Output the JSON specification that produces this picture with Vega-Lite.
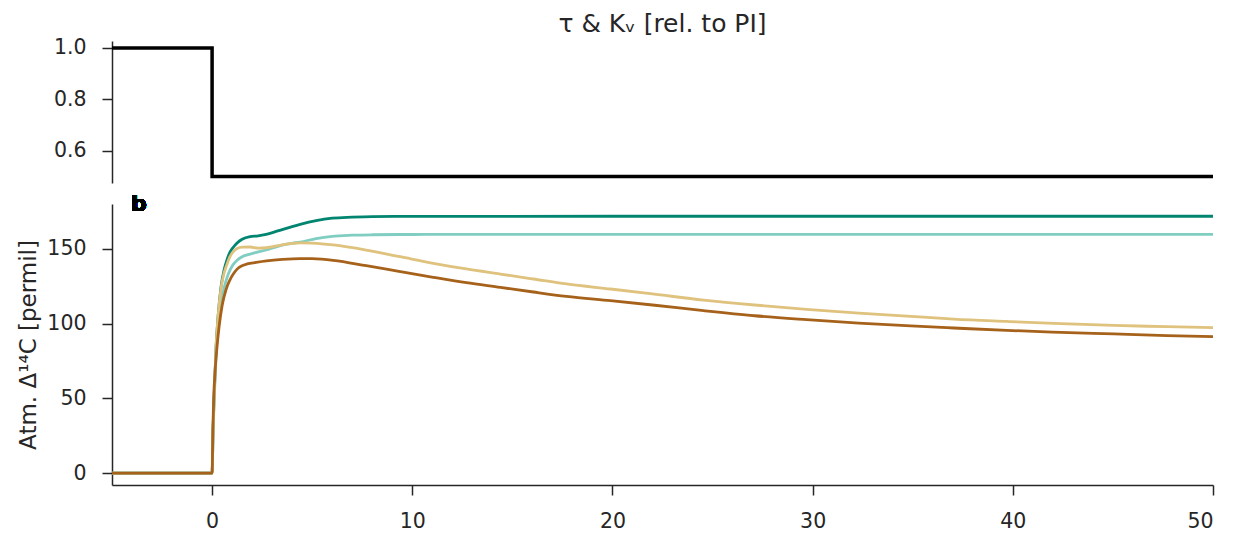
{
  "$schema": "https://vega.github.io/schema/vega-lite/v6.json",
  "autosize": {"type": "pad"},
  "padding": {"left": 17, "top": 11, "right": 12, "bottom": 2},
  "config": {
    "font": "DejaVu Sans",
    "view": {"stroke": null},
    "concat": {"spacing": 9},
    "axis": {
      "grid": false,
      "domainColor": "#262626",
      "domainWidth": 1.5,
      "tickColor": "#262626",
      "tickWidth": 1.5,
      "tickSize": 10,
      "labelFont": "DejaVu Sans",
      "labelFontSize": 20.5,
      "labelColor": "#262626",
      "labelPadding": 16,
      "titleFont": "DejaVu Sans",
      "titleFontSize": 23,
      "titleFontWeight": "normal",
      "titleColor": "#262626"
    }
  },
  "datasets": {
    "step": [
      {"t": -5, "v": 1.0},
      {"t": 0, "v": 0.5},
      {"t": 50, "v": 0.5}
    ],
    "c14": [
      {"s": "s1", "t": -5, "d": 0}, {"s": "s1", "t": 0, "d": 0}, {"s": "s1", "t": 0.05, "d": 30}, {"s": "s1", "t": 0.1, "d": 50}, {"s": "s1", "t": 0.2, "d": 85}, {"s": "s1", "t": 0.3, "d": 105}, {"s": "s1", "t": 0.45, "d": 125}, {"s": "s1", "t": 0.6, "d": 136}, {"s": "s1", "t": 0.75, "d": 143}, {"s": "s1", "t": 0.9, "d": 148}, {"s": "s1", "t": 1.05, "d": 151}, {"s": "s1", "t": 1.25, "d": 154}, {"s": "s1", "t": 1.5, "d": 156.5}, {"s": "s1", "t": 1.9, "d": 158.3}, {"s": "s1", "t": 2.3, "d": 158.8}, {"s": "s1", "t": 2.7, "d": 159.8}, {"s": "s1", "t": 3.1, "d": 161.3}, {"s": "s1", "t": 3.5, "d": 163}, {"s": "s1", "t": 4.0, "d": 165}, {"s": "s1", "t": 4.4, "d": 166.5}, {"s": "s1", "t": 5.2, "d": 169}, {"s": "s1", "t": 6.0, "d": 170.6}, {"s": "s1", "t": 7.0, "d": 171.3}, {"s": "s1", "t": 8.0, "d": 171.7}, {"s": "s1", "t": 10, "d": 171.8}, {"s": "s1", "t": 20, "d": 171.9}, {"s": "s1", "t": 30, "d": 171.9}, {"s": "s1", "t": 40, "d": 171.9}, {"s": "s1", "t": 50, "d": 171.9},
      {"s": "s2", "t": -5, "d": 0}, {"s": "s2", "t": 0, "d": 0}, {"s": "s2", "t": 0.05, "d": 28}, {"s": "s2", "t": 0.1, "d": 47}, {"s": "s2", "t": 0.2, "d": 80}, {"s": "s2", "t": 0.3, "d": 99}, {"s": "s2", "t": 0.45, "d": 114}, {"s": "s2", "t": 0.6, "d": 124}, {"s": "s2", "t": 0.75, "d": 131}, {"s": "s2", "t": 0.9, "d": 136}, {"s": "s2", "t": 1.05, "d": 139.5}, {"s": "s2", "t": 1.25, "d": 142.5}, {"s": "s2", "t": 1.5, "d": 144.8}, {"s": "s2", "t": 1.9, "d": 146.6}, {"s": "s2", "t": 2.3, "d": 148}, {"s": "s2", "t": 2.7, "d": 149.3}, {"s": "s2", "t": 3.1, "d": 151}, {"s": "s2", "t": 3.5, "d": 152.6}, {"s": "s2", "t": 4.0, "d": 153.8}, {"s": "s2", "t": 4.4, "d": 154.6}, {"s": "s2", "t": 5.2, "d": 157}, {"s": "s2", "t": 6.0, "d": 158.5}, {"s": "s2", "t": 7.0, "d": 159.2}, {"s": "s2", "t": 8.0, "d": 159.5}, {"s": "s2", "t": 10, "d": 159.7}, {"s": "s2", "t": 20, "d": 159.8}, {"s": "s2", "t": 30, "d": 159.8}, {"s": "s2", "t": 40, "d": 159.8}, {"s": "s2", "t": 50, "d": 159.8},
      {"s": "s3", "t": -5, "d": 0}, {"s": "s3", "t": 0, "d": 0}, {"s": "s3", "t": 0.05, "d": 30}, {"s": "s3", "t": 0.1, "d": 50}, {"s": "s3", "t": 0.2, "d": 85}, {"s": "s3", "t": 0.3, "d": 105}, {"s": "s3", "t": 0.45, "d": 124}, {"s": "s3", "t": 0.6, "d": 134}, {"s": "s3", "t": 0.75, "d": 140}, {"s": "s3", "t": 0.9, "d": 145}, {"s": "s3", "t": 1.05, "d": 148}, {"s": "s3", "t": 1.25, "d": 150.3}, {"s": "s3", "t": 1.5, "d": 151.2}, {"s": "s3", "t": 1.9, "d": 151.3}, {"s": "s3", "t": 2.3, "d": 150.6}, {"s": "s3", "t": 2.7, "d": 150.8}, {"s": "s3", "t": 3.1, "d": 151.8}, {"s": "s3", "t": 3.5, "d": 152.8}, {"s": "s3", "t": 4.0, "d": 153.8}, {"s": "s3", "t": 4.4, "d": 154.1}, {"s": "s3", "t": 5.0, "d": 153.9}, {"s": "s3", "t": 6.05, "d": 152.7}, {"s": "s3", "t": 7.7, "d": 149.3}, {"s": "s3", "t": 9.4, "d": 144.8}, {"s": "s3", "t": 11.05, "d": 140.4}, {"s": "s3", "t": 12.7, "d": 136.6}, {"s": "s3", "t": 14.4, "d": 133.2}, {"s": "s3", "t": 16.05, "d": 129.9}, {"s": "s3", "t": 17.7, "d": 126.6}, {"s": "s3", "t": 19.9, "d": 123.2}, {"s": "s3", "t": 22, "d": 119.9}, {"s": "s3", "t": 24.55, "d": 115.8}, {"s": "s3", "t": 27.1, "d": 112.5}, {"s": "s3", "t": 29.7, "d": 109.6}, {"s": "s3", "t": 32.3, "d": 107.1}, {"s": "s3", "t": 34.9, "d": 104.9}, {"s": "s3", "t": 37.05, "d": 103.1}, {"s": "s3", "t": 39.7, "d": 101.5}, {"s": "s3", "t": 42.4, "d": 100}, {"s": "s3", "t": 45.05, "d": 98.8}, {"s": "s3", "t": 47.7, "d": 98}, {"s": "s3", "t": 50, "d": 97.3},
      {"s": "s4", "t": -5, "d": 0}, {"s": "s4", "t": 0, "d": 0}, {"s": "s4", "t": 0.04, "d": 30}, {"s": "s4", "t": 0.08, "d": 50}, {"s": "s4", "t": 0.15, "d": 68}, {"s": "s4", "t": 0.25, "d": 85}, {"s": "s4", "t": 0.35, "d": 98}, {"s": "s4", "t": 0.5, "d": 112}, {"s": "s4", "t": 0.7, "d": 123}, {"s": "s4", "t": 0.9, "d": 129.5}, {"s": "s4", "t": 1.05, "d": 133}, {"s": "s4", "t": 1.25, "d": 136.5}, {"s": "s4", "t": 1.5, "d": 138.8}, {"s": "s4", "t": 1.75, "d": 140}, {"s": "s4", "t": 2.2, "d": 141}, {"s": "s4", "t": 2.72, "d": 142}, {"s": "s4", "t": 3.5, "d": 143}, {"s": "s4", "t": 4.4, "d": 143.6}, {"s": "s4", "t": 5.0, "d": 143.5}, {"s": "s4", "t": 6.05, "d": 142.4}, {"s": "s4", "t": 7.7, "d": 138.8}, {"s": "s4", "t": 9.4, "d": 134.8}, {"s": "s4", "t": 11.05, "d": 131}, {"s": "s4", "t": 12.7, "d": 127.4}, {"s": "s4", "t": 14.4, "d": 124.3}, {"s": "s4", "t": 16.05, "d": 121.2}, {"s": "s4", "t": 17.7, "d": 118.3}, {"s": "s4", "t": 19.9, "d": 115.4}, {"s": "s4", "t": 22, "d": 112.5}, {"s": "s4", "t": 24.55, "d": 108.7}, {"s": "s4", "t": 27.1, "d": 105.3}, {"s": "s4", "t": 29.7, "d": 102.7}, {"s": "s4", "t": 32.3, "d": 100.4}, {"s": "s4", "t": 34.9, "d": 98.5}, {"s": "s4", "t": 37.05, "d": 97.1}, {"s": "s4", "t": 39.7, "d": 95.5}, {"s": "s4", "t": 42.4, "d": 94.2}, {"s": "s4", "t": 45.05, "d": 93.1}, {"s": "s4", "t": 47.7, "d": 92}, {"s": "s4", "t": 50, "d": 91.3}
    ]
  },
  "vconcat": [
    {
      "width": 1101,
      "height": 142,
      "title": {"text": "τ & Kᵥ [rel. to PI]", "anchor": "middle", "fontSize": 25, "fontWeight": "normal", "color": "#262626", "offset": 1},
      "data": {"name": "step"},
      "mark": {"type": "line", "interpolate": "step-after", "color": "black", "strokeWidth": 3.5, "clip": false},
      "encoding": {
        "x": {"field": "t", "type": "quantitative", "scale": {"domain": [-5, 50], "nice": false, "zero": false}, "axis": null},
        "y": {"field": "v", "type": "quantitative", "scale": {"domain": [0.475, 1.027], "nice": false, "zero": false}, "axis": {"title": null, "values": [0.6, 0.8, 1.0], "format": ".1f"}}
      }
    },
    {
      "width": 1101,
      "height": 281,
      "data": {"name": "c14"},
      "encoding": {
        "x": {"field": "t", "type": "quantitative", "scale": {"domain": [-5, 50], "nice": false, "zero": false}, "axis": {"title": null, "values": [0, 10, 20, 30, 40, 50]}},
        "y": {"field": "d", "type": "quantitative", "scale": {"domain": [-8, 180.1], "nice": false, "zero": false}, "axis": {"title": "Atm. Δ¹⁴C [permil]", "values": [0, 50, 100, 150], "titlePadding": 6}}
      },
      "layer": [
        {
          "mark": {"type": "line", "strokeWidth": 2.8, "interpolate": "monotone"},
          "encoding": {
            "color": {"field": "s", "type": "nominal", "scale": {"domain": ["s1", "s2", "s3", "s4"], "range": ["#018571", "#80cdc1", "#dfc27d", "#a6611a"]}, "legend": null}
          }
        },
        {
          "mark": {"type": "text", "text": "b", "fontSize": 22, "fontWeight": "bold", "color": "black", "align": "left", "baseline": "alphabetic", "clip": false},
          "encoding": {
            "x": {"datum": -4.05},
            "y": {"datum": 175.4}
          }
        }
      ]
    }
  ]
}
